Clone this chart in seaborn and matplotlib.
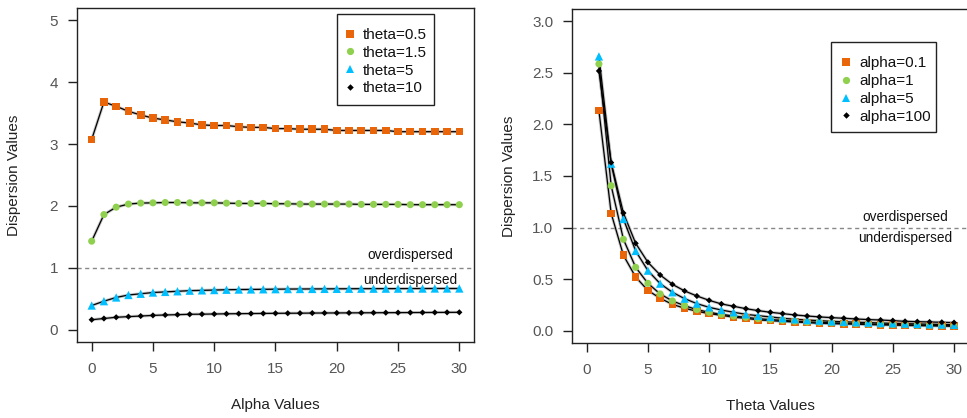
import numpy as np
import pandas as pd
import matplotlib
matplotlib.use("Agg")
import matplotlib.pyplot as plt
import seaborn as sns
from matplotlib.lines import Line2D
from matplotlib.patches import Rectangle

# ---------------- data ----------------
alpha_vals = list(range(0, 31))
theta_05 = [3.075, 3.68, 3.61, 3.53, 3.47, 3.42, 3.39, 3.36, 3.34, 3.31, 3.30,
            3.30, 3.28, 3.27, 3.27, 3.25, 3.25, 3.24, 3.24, 3.24, 3.22,
            3.22, 3.22, 3.22, 3.22, 3.20, 3.20, 3.20, 3.20, 3.20, 3.20]
theta_15 = [1.43, 1.86, 1.98, 2.03, 2.046, 2.05, 2.055, 2.055, 2.05, 2.05, 2.05,
            2.045, 2.04, 2.04, 2.04, 2.035, 2.035, 2.03, 2.03, 2.03, 2.03,
            2.03, 2.025, 2.025, 2.025, 2.025, 2.02, 2.02, 2.02, 2.02, 2.02]
theta_5 = [0.39, 0.46, 0.52, 0.56, 0.58, 0.60, 0.61, 0.62, 0.63, 0.635, 0.64,
           0.645, 0.648, 0.65, 0.652, 0.654, 0.656, 0.657, 0.658, 0.659, 0.66,
           0.661, 0.662, 0.662, 0.663, 0.663, 0.664, 0.664, 0.665, 0.665, 0.665]
theta_10 = [0.16, 0.18, 0.20, 0.21, 0.22, 0.23, 0.237, 0.242, 0.248, 0.25, 0.253,
            0.256, 0.258, 0.26, 0.262, 0.264, 0.265, 0.266, 0.268, 0.269, 0.27,
            0.271, 0.272, 0.273, 0.274, 0.275, 0.276, 0.277, 0.278, 0.279, 0.28]
left_labels = ["theta=0.5", "theta=1.5", "theta=5", "theta=10"]

theta_vals = list(range(1, 31))
alpha_01 = [2.134, 1.138, 0.731, 0.52, 0.39, 0.314, 0.255, 0.217, 0.188, 0.165,
            0.149, 0.13, 0.12, 0.104, 0.097, 0.09, 0.084, 0.078, 0.071, 0.068,
            0.065, 0.062, 0.059, 0.056, 0.054, 0.051, 0.049, 0.047, 0.045, 0.043]
alpha_1 = [2.587, 1.406, 0.886, 0.614, 0.459, 0.356, 0.288, 0.242, 0.204, 0.178,
           0.158, 0.142, 0.129, 0.116, 0.107, 0.10, 0.091, 0.084, 0.081, 0.075,
           0.072, 0.068, 0.065, 0.062, 0.059, 0.056, 0.054, 0.051, 0.049, 0.047]
alpha_5 = [2.66, 1.62, 1.083, 0.773, 0.582, 0.456, 0.372, 0.31, 0.262, 0.226,
           0.20, 0.178, 0.158, 0.145, 0.133, 0.12, 0.11, 0.103, 0.097, 0.09,
           0.086, 0.082, 0.078, 0.074, 0.071, 0.068, 0.065, 0.062, 0.06, 0.057]
alpha_100 = [2.519, 1.63, 1.141, 0.847, 0.663, 0.54, 0.449, 0.385, 0.336, 0.294,
             0.259, 0.236, 0.213, 0.194, 0.178, 0.165, 0.152, 0.142, 0.133, 0.126,
             0.12, 0.113, 0.107, 0.103, 0.097, 0.09, 0.087, 0.084, 0.081, 0.078]
right_labels = ["alpha=0.1", "alpha=1", "alpha=5", "alpha=100"]

colors = ["#E8650A", "#8FD14F", "#00BFFF", "#000000"]
markers = ["s", "o", "^", "D"]
msizes = [30, 26, 36, 10]

# ---------------- style ----------------
sns.set_theme(style="white")
plt.rcParams["font.family"] = ["Liberation Sans", "DejaVu Sans"]

fig = plt.figure(figsize=(9.67, 4.18), dpi=100)
axL = fig.add_axes([0.0796, 0.1818, 0.4106, 0.7991])
axR = fig.add_axes([0.5915, 0.1794, 0.4103, 0.7991])


def draw(ax, xs, series, labels, xlim, ylim, yticks, yfmt, xlabel, txt_x, over_y, under_y,
         leg_anchor, box):
    for i, (ys, lab) in enumerate(zip(series, labels)):
        df = pd.DataFrame({"x": xs, "y": ys})
        sns.lineplot(data=df, x="x", y="y", ax=ax, color="#888888", lw=2.2, alpha=0.45, zorder=2)
        sns.lineplot(data=df, x="x", y="y", ax=ax, color="black", lw=0.9, zorder=3)
        sns.scatterplot(data=df, x="x", y="y", ax=ax, color=colors[i], marker=markers[i],
                        s=msizes[i], edgecolor="none", linewidth=0, zorder=4)
    ax.axhline(1.0, color="#888888", lw=1.0, ls=(0, (3, 2.5)), zorder=1)
    ax.text(txt_x, over_y, "overdispersed", ha="center", va="center", fontsize=9.8, color="#111111")
    ax.text(txt_x, under_y, "underdispersed", ha="center", va="center", fontsize=9.8, color="#111111")
    ax.set_xlim(*xlim)
    ax.set_ylim(*ylim)
    ax.set_xticks([0, 5, 10, 15, 20, 25, 30])
    ax.set_yticks(yticks)
    ax.set_yticklabels([yfmt.format(v) for v in yticks])
    ax.tick_params(axis="both", which="both", direction="out", length=6.5, width=1.0,
                   color="#222222", labelsize=11, labelcolor="#555555",
                   bottom=True, left=True, top=False, right=False)
    ax.tick_params(axis="x", pad=8)
    ax.tick_params(axis="y", pad=7)
    ax.set_xlabel(xlabel, fontsize=11, color="#222222", labelpad=16)
    ax.set_ylabel("Dispersion Values", fontsize=11, color="#222222")
    ax.yaxis.set_label_coords(-0.142, 0.5)
    for s in ax.spines.values():
        s.set_visible(True)
        s.set_color("#222222")
        s.set_linewidth(1.0)
    handles = [Line2D([], [], ls="none", marker=markers[i], color=colors[i],
                      markersize=[5.6, 5.2, 6.4, 3.3][i], markeredgewidth=0) for i in range(4)]
    leg = ax.legend(handles, labels, loc="upper left", bbox_to_anchor=leg_anchor,
                    frameon=False, fontsize=11, handlelength=0.8, handletextpad=0.45,
                    labelspacing=0.25, borderpad=0, borderaxespad=0)
    for t in leg.get_texts():
        t.set_color("#111111")
    x0, y0, x1, y1 = box
    ax.add_patch(Rectangle((x0, y0), x1 - x0, y1 - y0, transform=ax.transAxes,
                           fill=False, edgecolor="#222222", lw=1.0, clip_on=False, zorder=6))


draw(axL, alpha_vals, [theta_05, theta_15, theta_5, theta_10], left_labels,
     (-1.2, 31.2), (-0.2, 5.2), [0, 1, 2, 3, 4, 5], "{:.0f}", "Alpha Values",
     26, 1.2, 0.8, (0.6725, 0.940), (0.655, 0.710, 0.899, 0.982))
draw(axR, theta_vals, [alpha_01, alpha_1, alpha_5, alpha_100], right_labels,
     (-1.2, 31.2), (-0.12, 3.12), [0.0, 0.5, 1.0, 1.5, 2.0, 2.5, 3.0], "{:.1f}", "Theta Values",
     26, 1.1, 0.9, (0.676, 0.8585), (0.654, 0.632, 0.918, 0.901))

fig.savefig("out.png", dpi=100)
